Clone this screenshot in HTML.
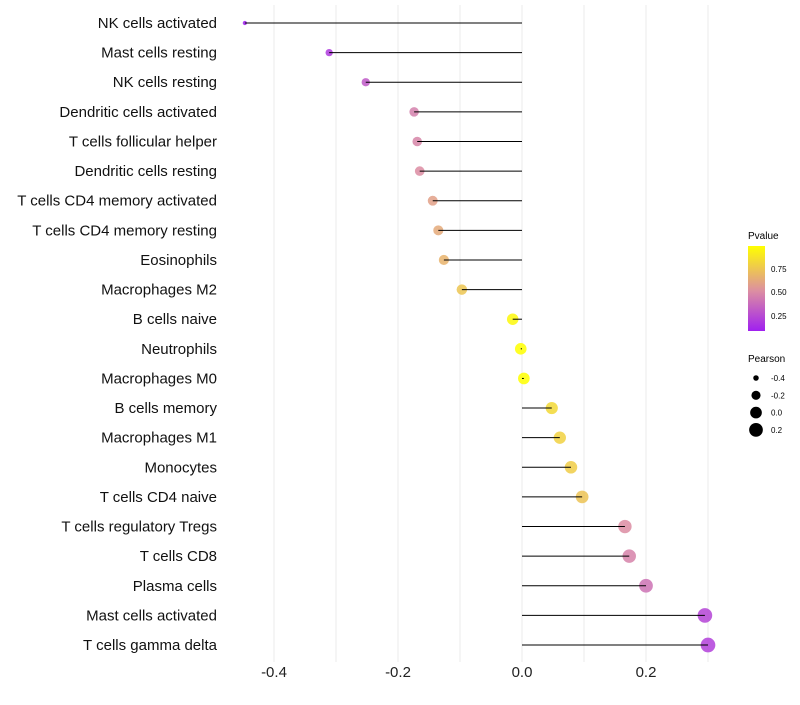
<!DOCTYPE html>
<html><head><meta charset="utf-8"><style>
body{margin:0;background:#fff;font-family:"Liberation Sans",sans-serif;}
svg text{font-family:"Liberation Sans",sans-serif;}
</style></head><body>
<svg id="chart" width="800" height="700" xmlns="http://www.w3.org/2000/svg">
<defs><linearGradient id="pg" x1="0" y1="1" x2="0" y2="0">
<stop offset="0" stop-color="#a020f0"/><stop offset="0.47" stop-color="#dc8ea2"/><stop offset="1" stop-color="#ffff00"/>
</linearGradient></defs>
<g id="grid"></g>
<g id="dots" opacity="0.85"></g>
<g id="stems"></g>
<g id="ylabels"></g>
<g id="xlabels"></g>
<g>
<text x="748" y="239" font-size="10">Pvalue</text>
<rect x="748" y="246" width="17" height="85" fill="url(#pg)"/>
<text x="771" y="272" font-size="8">0.75</text>
<text x="771" y="295" font-size="8">0.50</text>
<text x="771" y="319" font-size="8">0.25</text>
</g>
<g id="sizeleg">
<text x="748" y="362" font-size="10">Pearson</text>
</g>
</svg>
<script>
const categories=["NK cells activated","Mast cells resting","NK cells resting","Dendritic cells activated","T cells follicular helper","Dendritic cells resting","T cells CD4 memory activated","T cells CD4 memory resting","Eosinophils","Macrophages M2","B cells naive","Neutrophils","Macrophages M0","B cells memory","Macrophages M1","Monocytes","T cells CD4 naive","T cells regulatory  Tregs ","T cells CD8","Plasma cells","Mast cells activated","T cells gamma delta"];
const pearson=[-0.447,-0.311,-0.252,-0.174,-0.169,-0.165,-0.144,-0.135,-0.126,-0.097,-0.015,-0.002,0.003,0.048,0.061,0.079,0.097,0.166,0.173,0.2,0.295,0.3];
const pvalue=[0.08,0.18,0.3,0.45,0.47,0.5,0.58,0.62,0.66,0.74,0.95,0.99,0.98,0.82,0.79,0.77,0.73,0.5,0.46,0.4,0.22,0.2];
const xTicks=[-0.4,-0.2,0.0,0.2];
const xTickLabels=["-0.4","-0.2","0.0","0.2"];
const legendVals=[-0.4,-0.2,0.0,0.2];
const legendLabels=["-0.4","-0.2","0.0","0.2"];
const NS="http://www.w3.org/2000/svg";
const x=v=>522+v*620;
const y=i=>23+i*29.62;
const r=v=>Math.sqrt(Math.max(1,34+66*v));
function lerp(a,b,t){return a.map((c,i)=>Math.round(c+(b[i]-c)*t));}
function col(p){const t=Math.min(1,Math.max(0,(p-0.08)/0.9));const A=[160,32,240],M=[220,142,162],B=[255,255,0];
const c=t<0.47?lerp(A,M,t/0.47):lerp(M,B,(t-0.47)/0.53);return `rgb(${c})`;}
function mk(tag,attrs,parent){const e=document.createElementNS(NS,tag);for(const k in attrs)e.setAttribute(k,attrs[k]);parent.appendChild(e);return e;}
const grid=document.getElementById('grid'),dots=document.getElementById('dots'),stems=document.getElementById('stems'),yl=document.getElementById('ylabels'),xl=document.getElementById('xlabels'),sl=document.getElementById('sizeleg');
[-0.4,-0.3,-0.2,-0.1,0,0.1,0.2,0.3].forEach(v=>{const l=mk('line',{x1:x(v),x2:x(v),y1:5,y2:662,stroke:'#ebebeb','stroke-width':1},grid);

});
xTicks.forEach((v,i)=>{const t=mk('text',{x:x(v),y:677,'font-size':15,'text-anchor':'middle',fill:'#222'},xl);t.textContent=xTickLabels[i];

});
categories.forEach((c,i)=>{
const t=mk('text',{x:217,y:y(i)+5,'font-size':15,'text-anchor':'end',fill:'#111'},yl);t.textContent=c;


const d=mk('circle',{cx:x(pearson[i]),cy:y(i),r:r(pearson[i]),fill:col(pvalue[i])},dots);


const l=mk('line',{x1:x(0),x2:x(pearson[i]),y1:y(i),y2:y(i),stroke:'#000','stroke-width':1},stems);


});
legendVals.forEach((v,i)=>{const cy=378+i*17.3;
const d=mk('circle',{cx:756,cy:cy,r:r(v),fill:'#000'},sl);


const t=mk('text',{x:771,y:cy+3,'font-size':8},sl);t.textContent=legendLabels[i];

});
</script>
</body></html>
